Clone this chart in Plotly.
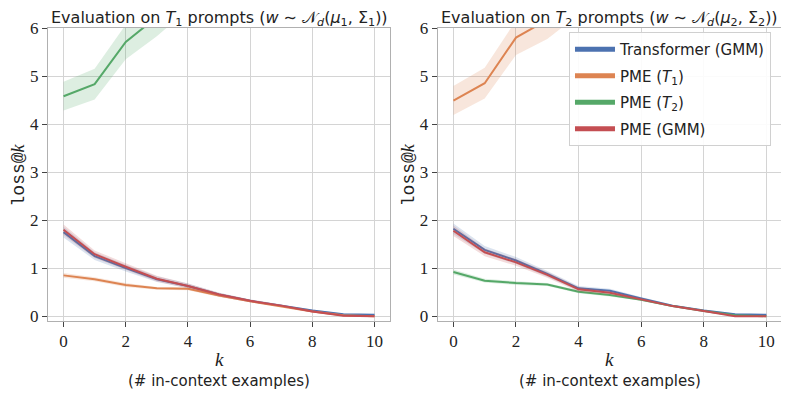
import plotly.graph_objects as go
from plotly.subplots import make_subplots

k = [0, 1, 2, 3, 4, 5, 6, 7, 8, 9, 10]

# left panel: evaluation on T1 prompts
t1_transformer = [1.75, 1.25, 1.00, 0.77, 0.63, 0.45, 0.32, 0.22, 0.12, 0.04, 0.03]
t1_pme_t1 = [0.85, 0.77, 0.65, 0.58, 0.57, 0.43, 0.31, 0.21, 0.10, 0.02, 0.00]
t1_pme_t2 = [4.58, 4.83, 5.71, 6.23, 6.80, 7.30, 7.70, 8.10, 8.40, 8.70, 9.00]
t1_pme_gmm = [1.80, 1.29, 1.03, 0.78, 0.63, 0.45, 0.32, 0.22, 0.10, 0.01, 0.00]

# right panel: evaluation on T2 prompts
t2_transformer = [1.82, 1.38, 1.16, 0.88, 0.58, 0.53, 0.37, 0.22, 0.12, 0.04, 0.03]
t2_pme_t1 = [4.49, 4.85, 5.80, 6.17, 6.70, 7.20, 7.60, 8.00, 8.30, 8.60, 8.90]
t2_pme_t2 = [0.92, 0.74, 0.69, 0.66, 0.51, 0.44, 0.34, 0.21, 0.11, 0.02, 0.00]
t2_pme_gmm = [1.78, 1.33, 1.12, 0.86, 0.56, 0.49, 0.35, 0.21, 0.11, 0.00, 0.00]

# half-width of the shaded bands
spread_gmm = [0.11, 0.08, 0.07, 0.06, 0.05, 0.04, 0.03, 0.02, 0.02, 0.01, 0.01]
spread_low = [0.05, 0.04, 0.04, 0.03, 0.03, 0.03, 0.02, 0.02, 0.01, 0.01, 0.01]
spread_high = [0.30, 0.32, 0.36, 0.40, 0.42, 0.44, 0.46, 0.48, 0.50, 0.52, 0.54]

names = ["Transformer (GMM)", "PME (<i>T</i><sub>1</sub>)", "PME (<i>T</i><sub>2</sub>)", "PME (GMM)"]
colors = ["#4C72B0", "#DD8452", "#55A868", "#C44E52"]
fills = ["rgba(76,114,176,0.2)", "rgba(221,132,82,0.2)", "rgba(85,168,104,0.2)", "rgba(196,78,82,0.2)"]

panels = [
    [t1_transformer, t1_pme_t1, t1_pme_t2, t1_pme_gmm],
    [t2_transformer, t2_pme_t1, t2_pme_t2, t2_pme_gmm],
]
spreads = [
    [spread_gmm, spread_low, spread_high, spread_gmm],
    [spread_gmm, spread_high, spread_low, spread_gmm],
]

fig = make_subplots(rows=1, cols=2)

for col, (series, sp) in enumerate(zip(panels, spreads), start=1):
    for i, (y, s) in enumerate(zip(series, sp)):
        upper = [a + b for a, b in zip(y, s)]
        lower = [a - b for a, b in zip(y, s)]
        fig.add_trace(go.Scatter(x=k + k[::-1], y=upper + lower[::-1], fill="toself",
                                 fillcolor=fills[i], line=dict(width=0), mode="lines",
                                 hoverinfo="skip", showlegend=False), row=1, col=col)
        fig.add_trace(go.Scatter(x=k, y=y, mode="lines", line=dict(color=colors[i], width=2),
                                 showlegend=False), row=1, col=col)

# legend entries (thick lines)
for i in range(4):
    fig.add_trace(go.Scatter(x=[None], y=[None], mode="lines", name=names[i], legendgroup=str(i),
                             line=dict(color=colors[i], width=5)), row=1, col=2)

serif = "Liberation Serif"
sans = "DejaVu Sans"

axis_common = dict(showgrid=True, gridcolor="#d4d4d4", gridwidth=1, showline=True,
                   linecolor="#b0b0b0", linewidth=1, mirror=True, ticks="outside",
                   ticklen=5, tickcolor="#444444", zeroline=False,
                   tickfont=dict(family=serif, size=17, color="#222222"))

dom1 = [0.0, 0.466]
dom2 = [0.531, 1.0]
fig.update_xaxes(domain=dom1, row=1, col=1)
fig.update_xaxes(domain=dom2, row=1, col=2)
for c in (1, 2):
    fig.update_xaxes(range=[-0.5, 10.5], tickvals=[0, 2, 4, 6, 8, 10], row=1, col=c, **axis_common)
    fig.update_yaxes(range=[-0.1, 6], tickvals=[0, 1, 2, 3, 4, 5, 6], row=1, col=c, **axis_common)

# page body adds an 8px offset, so the figure is a bit smaller than the window
fig.update_layout(
    width=781, height=391,
    margin=dict(l=40, r=7, t=20, b=78),
    plot_bgcolor="white", paper_bgcolor="white",
    font=dict(family=sans, size=15, color="#222222"),
    legend=dict(x=0.985, y=0.986, xanchor="right", yanchor="top",
                bgcolor="rgba(255,255,255,0.9)", bordercolor="#d0d0d0", borderwidth=1,
                font=dict(family=sans, size=15, color="#222222"), tracegroupgap=4,
                itemwidth=40, xref="paper", yref="paper"),
)

titles = [
    "Evaluation on <i>T</i><sub>1</sub> prompts (<i>w</i> ∼ 𝒩<sub><i>d</i></sub>(<i>μ</i><sub>1</sub>, Σ<sub>1</sub>))",
    "Evaluation on <i>T</i><sub>2</sub> prompts (<i>w</i> ∼ 𝒩<sub><i>d</i></sub>(<i>μ</i><sub>2</sub>, Σ<sub>2</sub>))",
]
for d, t in zip([dom1, dom2], titles):
    cx = (d[0] + d[1]) / 2
    fig.add_annotation(x=cx, y=1.0, xref="paper", yref="paper", xanchor="center", yanchor="bottom",
                       yshift=-3, text=t, showarrow=False,
                       font=dict(family=sans, size=16, color="#222222"))
    fig.add_annotation(x=cx, y=-0.13, xref="paper", yref="paper", xanchor="center", yanchor="middle",
                       text="<i>k</i>",
                       showarrow=False, font=dict(family=serif, size=19, color="#222222"))
    fig.add_annotation(x=cx, y=-0.205, xref="paper", yref="paper", xanchor="center", yanchor="middle",
                       text="(# in-context examples)",
                       showarrow=False, font=dict(family=sans, size=15, color="#222222"))
    fig.add_annotation(x=d[0] - 0.045, y=0.5, xref="paper", yref="paper", textangle=-90,
                       xanchor="center", yanchor="middle", xshift=4,
                       text="<span style='font-family:Liberation Mono'>loss@</span><i>k</i>",
                       showarrow=False, font=dict(family=serif, size=18, color="#222222"))

fig.write_html("out.html")
